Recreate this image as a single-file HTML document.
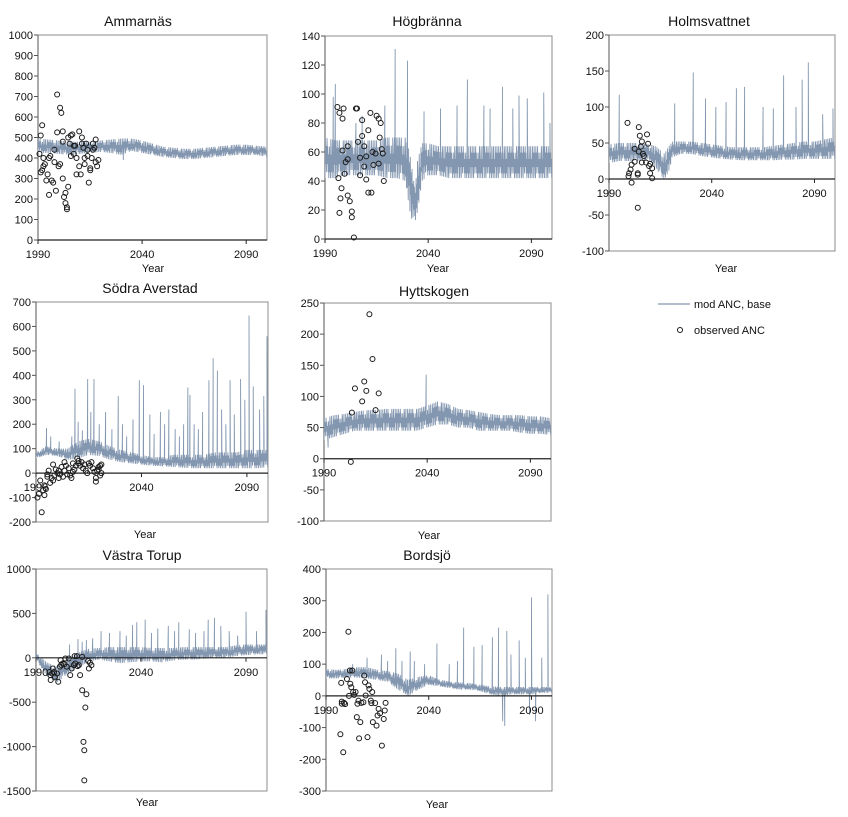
<!DOCTYPE html>
<html><head><meta charset="utf-8">
<style>
body{margin:0;background:#fff;}
svg{display:block;font-family:"Liberation Sans",sans-serif;}
</style></head>
<body>
<svg id="c" width="848" height="817" viewBox="0 0 848 817"></svg>
<script>
const stdYears = [1990,1995,2000,2005,2010,2015,2020,2025,2030,2035,2040,2045,2050,2055,2060,2065,2070,2075,2080,2085,2090,2095,2100];

// Ammarnäs
const ammLow  = [425,425,420,415,420,425,430,425,415,435,425,415,405,400,395,395,400,405,410,415,415,415,405];
const ammHigh = [495,490,485,480,480,480,485,490,495,495,485,470,455,450,445,445,450,455,460,465,465,460,455];
const ammSpikeYears = [2031];
const ammSpikeVals = [390];
const ammObsYears = [1990.7,1991.3,1992,1991.3,1992,1992.6,1993.3,1992.6,1994,1994.6,1995.3,1995.3,1995.9,1996.6,1997.3,1997.9,1997.9,1998.6,1999.2,1999.2,1999.9,2000.6,2000.6,2001.2,2001.9,2001.9,2001.9,2002.5,2003.2,2003.2,2003.9,2003.9,2004.5,2004.5,2005.2,2005.8,2005.8,2006.5,2007.2,2007.2,2007.8,2008.5,2008.5,2009.8,2009.8,2010.5,2011.1,2011.1,2011.8,2012.4,2012.4,2013.1,2013.8,2013.8,2014.4,2015.1,2015.1,2015.8,2016.4,2016.4,2017.1,2017.7,2017.7,2018.4,2019];
const ammObsVals  = [420,510,560,330,340,360,370,400,290,320,220,400,410,290,280,440,380,240,710,525,360,645,370,620,530,480,300,210,180,230,160,150,260,500,470,510,410,515,460,420,460,400,320,530,360,320,500,470,450,400,370,470,440,410,280,350,340,400,470,440,450,380,490,360,390];

// Högbränna
const hogYears = [1990,1995,2000,2005,2010,2015,2020,2025,2029,2031,2033,2035,2037,2040,2045,2050,2055,2060,2065,2070,2075,2080,2085,2090,2095,2100];
const hogLow  = [42,42,44,44,44,44,42,42,40,20,8,20,40,44,44,42,42,42,42,42,42,42,42,42,42,42];
const hogHigh = [70,68,68,68,68,68,70,70,70,60,40,55,66,66,64,64,64,64,64,64,64,64,64,64,64,64];
const hogSpikeYears = [1994,1995,2005,2008,2019,2024,2030,2038,2046,2054,2059,2067,2070,2076,2081,2084,2088,2096,2099];
const hogSpikeVals  = [98,107,80,85,92,131,123,88,90,92,110,92,90,105,90,99,97,101,80];
const hogObsYears = [1996,1997,1999,1998.5,1998.5,1996.5,1998,1997.5,1997,1999.5,2000,2001,2001,2001,2002,2003,2003,2004,2005,2005.5,2006,2007,2008,2008,2009,2009,2010,2011,2012,2011,2012.5,2013,2013.5,2014.5,2015,2016,2016.5,2017,2017.5,2018,2018.5,2016,2010,2007];
const hogObsVals  = [91,87,90,83,61,42,35,28,18,45,53,64,55,30,26,19,15,1,90,90,67,56,82,71,64,50,57,75,87,32,32,60,51,59,85,83,70,80,62,59,40,52,41,44];

// Holmsvattnet
const holYears = [1990,1995,2000,2005,2010,2013,2015,2017,2019,2021,2025,2030,2035,2040,2045,2050,2055,2060,2065,2070,2075,2080,2085,2090,2095,2100];
const holLow  = [22,25,25,25,25,15,5,0,10,30,35,35,32,30,28,27,26,26,26,26,27,27,28,28,28,28];
const holHigh = [48,50,50,50,48,45,40,35,45,52,52,52,50,48,46,44,44,44,44,46,48,50,52,52,55,58];
const holSpikeYears = [1995,2022,2031,2037,2042,2047,2052,2056,2065,2070,2075,2081,2084,2087,2094,2099];
const holSpikeVals  = [117,105,148,112,100,107,126,128,100,98,144,100,138,162,90,98];
const holObsYears = [1999,2004,2004.5,2005,2008.5,2002.5,2004,2001,1999.5,2000.5,2001,2002.5,2005.5,2006,2006.5,2007,2008,2009,2009.5,2010,2011,2010,2011,2004.5,2006,2004,1999.8];
const holObsVals  = [78,-40,72,60,62,42,8,-5,4,13,20,24,45,52,35,32,23,49,18,21,15,8,1,38,23,6,8];

// Södra Averstad
const sodLow  = [60,75,70,55,60,75,70,55,45,40,35,30,28,25,22,20,20,20,20,20,20,20,25];
const sodHigh = [85,110,100,100,130,140,130,110,95,85,75,65,65,75,75,75,75,85,85,85,95,95,95];
const sodSpikeYears = [1995,1997,2001,2004,2007,2008.5,2010,2012,2014.5,2016,2017.5,2020,2023,2026,2029,2031,2033,2036,2039,2041,2044,2046,2049,2051,2053,2056,2058,2060,2062,2063,2065,2067,2069,2072,2074,2076,2078,2080,2082,2084,2087,2089,2091,2093,2096,2098,2099.5];
const sodSpikeVals  = [185,150,130,100,150,345,210,175,385,250,385,200,250,180,315,200,150,220,380,360,240,160,250,200,260,180,150,200,350,320,200,180,250,380,470,420,260,200,380,240,385,300,645,355,260,315,560];
const sodObsYears = [1990.7,1991.4,1992,1992.7,1993.4,1994,1994.7,1994,1995.4,1996,1995.4,1996.7,1997.4,1998.1,1998.1,1998.7,1999.4,2000.1,2000.8,2000.8,2001.4,2002.1,2002.8,2003.5,2003.5,2004.2,2004.8,2005.5,2006.2,2006.8,2007.5,2007.5,2008.2,2008.9,2009.6,2010.2,2010.2,2010.9,2011.6,2012.3,2013,2013.6,2014.3,2015,2015.6,2016.3,2017,2017.7,2018.4,2019,2018.4,2019.7,2020.4,2019.7,2021,2021,2020.4];
const sodObsVals  = [-100,-85,-30,-160,-70,-90,-65,-50,-5,10,-15,-40,-20,35,-30,-10,15,0,10,-20,-5,25,-15,45,10,30,-5,20,-10,-20,40,5,15,30,60,50,40,30,45,20,35,10,0,40,30,45,20,5,-20,10,-35,25,30,15,0,35,-10];

// Hyttskogen
const hytLow  = [30,35,40,45,45,45,45,45,45,45,50,55,55,50,50,45,45,45,45,42,40,40,38];
const hytHigh = [65,70,72,75,78,78,80,80,80,80,85,92,88,80,78,75,72,70,70,70,68,68,65];
const hytSpikeYears = [1992,2039.5];
const hytSpikeVals  = [18,135];
const hytObsYears = [2003,2003.5,2005,2008.5,2009.5,2010.5,2012,2013.5,2015,2016.5];
const hytObsVals  = [-5,74,113,92,124,109,232,160,78,105];

// Västra Torup
const vasLow  = [-20,-200,-280,-180,-120,-40,-20,-40,-60,-50,-40,-40,-50,-30,-20,-20,-10,0,0,20,30,40,40];
const vasHigh = [60,-50,-100,-20,60,100,110,120,120,120,120,110,110,110,120,120,120,120,120,140,150,150,150];
const vasSpikeYears = [2006,2010,2012,2014,2017,2021,2025,2030,2033,2036,2038,2042,2045,2048,2053,2056,2058,2063,2066,2070,2072,2075,2078,2082,2086,2090,2095,2099.5];
const vasSpikeVals  = [150,210,180,200,220,300,280,300,250,370,400,430,280,330,360,300,400,320,280,300,430,450,360,300,250,520,300,540];
const vasObsYears = [1996.8,1997.7,1998,1999,2000,2000.6,2001.4,2001.7,2002.7,2003.5,2004,2004.6,2005.6,2006.3,2007,2008,2008.4,2009.5,2010.4,2011,2012,2012,2012.6,2013,2013,2013.5,2014,2014.8,2015.2,2015.7,2016.4,1996.5,1997,2002,2008.7,2009.8,1998.6];
const vasObsVals  = [-195,-177,-120,-215,-177,-270,-100,-26,-64,-71,-8,-100,-8,-195,-120,-83,19,19,-83,-195,11,-365,-947,-1041,-1380,-560,-410,-34,-120,-56,-83,-160,-250,-80,-64,-94,-160];

// Bordsjö
const borLow  = [55,55,58,58,55,50,45,20,0,20,35,30,25,20,20,15,5,0,5,5,5,10,10];
const borHigh = [85,82,85,90,90,82,78,70,50,60,65,52,45,42,40,35,30,28,28,28,28,28,28];
const borSpikeYears = [2003,2010,2017,2020,2024,2027,2031,2033,2038,2044,2050,2054,2057,2062,2066,2071,2074,2076,2077,2078,2080,2084,2087,2089,2090,2092,2095,2098];
const borSpikeVals  = [100,120,130,110,150,110,140,110,100,165,100,110,215,155,160,185,215,-80,-95,205,130,175,120,-60,310,-80,120,320];
const borObsYears = [1997,1997.4,1997.7,1998.4,1998.8,1999.3,2000.2,2000.9,2001.2,2001.8,2002.3,2002.8,2003.2,2003.7,2004.4,2005,2005.3,2005.8,2006.1,2006.7,2007.2,2008.2,2008.6,2009,2009.3,2010.2,2010.7,2011.1,2011.8,2012.1,2012.5,2012.8,2013.9,2014.6,2015.1,2015.6,2016.3,2017.2,2018.1,2018.6,2019,1997.7,2001.6];
const borObsVals  = [-121,41,-18,-178,-22,-26,53,202,0,38,27,80,12,3,12,-67,-25,-15,-134,-83,-22,-20,64,43,1,-130,33,22,-15,-23,12,-83,-23,-94,-62,-41,-55,-157,-73,-46,-22,-25,80];

const NS = "http://www.w3.org/2000/svg";
const svg = document.getElementById('c');
function mk(tag, attrs, parent){
  const e = document.createElementNS(NS, tag);
  for (const k in attrs) e.setAttribute(k, attrs[k]);
  (parent||svg).appendChild(e);
  return e;
}
function interp(xs, ys, t){
  if (t <= xs[0]) return ys[0];
  for (let i=1;i<xs.length;i++){
    if (t <= xs[i]){ const f=(t-xs[i-1])/(xs[i]-xs[i-1]); return ys[i-1]+f*(ys[i]-ys[i-1]); }
  }
  return ys[ys.length-1];
}
const seasonShape = [0, 1, 0.35, 0.8, 0.15, 0.6];

const panels = [
 {id:'ammarnas', title:'Ammarnäs', tx:138, ty:26, L:38,R:267,T:35,B:240, ymin:0,ymax:1000,step:100, yearX:153,yearY:272,
  by:stdYears, lo:ammLow, hi:ammHigh, sy:ammSpikeYears, sv:ammSpikeVals, oy:ammObsYears, ov:ammObsVals},
 {id:'hogbranna', title:'Högbränna', tx:427, ty:26, L:325,R:552,T:36,B:239, ymin:0,ymax:140,step:20, yearX:438,yearY:272,
  by:hogYears, lo:hogLow, hi:hogHigh, sy:hogSpikeYears, sv:hogSpikeVals, oy:hogObsYears, ov:hogObsVals},
 {id:'holmsvattnet', title:'Holmsvattnet', tx:709, ty:26, L:609,R:835,T:35,B:251, ymin:-100,ymax:200,step:50, yearX:726,yearY:272,
  by:holYears, lo:holLow, hi:holHigh, sy:holSpikeYears, sv:holSpikeVals, oy:holObsYears, ov:holObsVals},
 {id:'sodra-averstad', title:'Södra Averstad', tx:150, ty:293, L:36,R:268,T:302,B:522, ymin:-200,ymax:700,step:100, yearX:145,yearY:538,
  by:stdYears, lo:sodLow, hi:sodHigh, sy:sodSpikeYears, sv:sodSpikeVals, oy:sodObsYears, ov:sodObsVals},
 {id:'hyttskogen', title:'Hyttskogen', tx:434, ty:296, L:324,R:551,T:303,B:521, ymin:-100,ymax:250,step:50, yearX:429,yearY:539,
  by:stdYears, lo:hytLow, hi:hytHigh, sy:hytSpikeYears, sv:hytSpikeVals, oy:hytObsYears, ov:hytObsVals},
 {id:'vastra-torup', title:'Västra Torup', tx:142, ty:560, L:36,R:267,T:569,B:791, ymin:-1500,ymax:1000,step:500, yearX:147,yearY:806,
  by:stdYears, lo:vasLow, hi:vasHigh, sy:vasSpikeYears, sv:vasSpikeVals, oy:vasObsYears, ov:vasObsVals},
 {id:'bordsjo', title:'Bordsjö', tx:427, ty:560, L:326,R:552,T:569,B:791, ymin:-300,ymax:400,step:100, yearX:437,yearY:808,
  by:stdYears, lo:borLow, hi:borHigh, sy:borSpikeYears, sv:borSpikeVals, oy:borObsYears, ov:borObsVals}
];

panels.forEach((p, idx) => {
  const g = mk('g', {});
  
  
  const xs = y => p.L + (y-1990)/(2100-1990)*(p.R-p.L);
  const ys = v => p.B - (v-p.ymin)/(p.ymax-p.ymin)*(p.B-p.T);
  const cid = 'clip'+idx;
  const cp = mk('clipPath', {id:cid}, g);
  mk('rect', {x:p.L, y:p.T, width:p.R-p.L, height:p.B-p.T}, cp);

  const fr = mk('rect', {x:p.L, y:p.T, width:p.R-p.L, height:p.B-p.T, fill:'none', stroke:'#8c8c8c', 'stroke-width':1}, g);
  
  

  const t = mk('text', {x:p.tx, y:p.ty, 'text-anchor':'middle', 'font-size':14, fill:'#111'}, g);
  t.textContent = p.title;
  
  

  for (let v=p.ymin; v<=p.ymax+1e-9; v+=p.step){
    const y = ys(v);
    mk('line', {x1:p.L-4, x2:p.L, y1:y, y2:y, stroke:'#555', 'stroke-width':1}, g);
    const lb = mk('text', {x:p.L-5, y:y+4, 'text-anchor':'end', 'font-size':11, fill:'#111'}, g);
    lb.textContent = v;
    
    
  }
  mk('line', {x1:p.L, x2:p.L, y1:p.T, y2:p.B, stroke:'#555', 'stroke-width':1}, g);

  let pts = [];
  const spikes = p.sy.map((y,i)=>[y,p.sv[i]]).sort((a,b)=>a[0]-b[0]);
  let si = 0, k = 0;
  const n = seasonShape.length;
  for (let yr=1990; yr<=2100.001; yr+=1/n, k++){
    while (si < spikes.length && spikes[si][0] <= yr){
      pts.push([spikes[si][0], spikes[si][1]]); si++;
    }
    const lo = interp(p.by, p.lo, yr), hi = interp(p.by, p.hi, yr);
    const f = seasonShape[(k + Math.floor(k/n)) % n];
    pts.push([yr, lo + f*(hi-lo)]);
  }
  const d = pts.map((q,i)=>(i?'L':'M')+xs(q[0]).toFixed(2)+' '+ys(q[1]).toFixed(2)).join('');
  const ml = mk('path', {d:d, fill:'none', stroke:'#8497b0', 'stroke-width':0.9, 'clip-path':'url(#'+cid+')'}, g);
  
  

  const axY = ys(Math.max(0, p.ymin));
  const ax = mk('line', {x1:p.L, x2:p.R, y1:axY, y2:axY, stroke:'#222', 'stroke-width':1.2}, g);
  
  
  [1990,2040,2090].forEach(yr => {
    const x = xs(yr);
    mk('line', {x1:x, x2:x, y1:axY, y2:axY+4, stroke:'#222', 'stroke-width':1}, g);
    const lb = mk('text', {x:x, y:axY+18, 'text-anchor':'middle', 'font-size':11, fill:'#111'}, g);
    lb.textContent = yr;
    
    
  });

  p.oy.forEach((yr,i) => {
    const c = mk('circle', {cx:xs(yr), cy:ys(p.ov[i]), r:2.5, fill:'none', stroke:'#1a1a1a', 'stroke-width':1}, g);
    
    
  });

  const yt = mk('text', {x:p.yearX, y:p.yearY, 'text-anchor':'middle', 'font-size':11, fill:'#111'}, g);
  yt.textContent = 'Year';
  
  
});
</script>
<script>
(function(){
  const NS = "http://www.w3.org/2000/svg";
  const svg = document.getElementById('c');
  const g = document.createElementNS(NS,'g');
  
  
  svg.appendChild(g);
  g.innerHTML = '<line x1="658" y1="304" x2="690" y2="304" stroke="#8497b0" stroke-width="1.2"/>' +
    '<text x="694" y="308" font-size="11" fill="#111">mod ANC, base</text>' +
    '<circle cx="680" cy="330" r="2.5" fill="none" stroke="#1a1a1a"/>' +
    '<text x="694" y="334" font-size="11" fill="#111">observed ANC</text>';
})();
</script>
</body></html>
